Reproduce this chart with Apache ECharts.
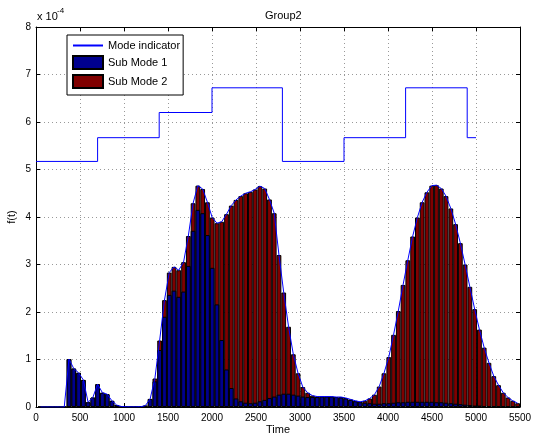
<!DOCTYPE html>
<html><head><meta charset="utf-8">
<script src="https://cdn.jsdelivr.net/npm/echarts@6/dist/echarts.min.js"></script>
<style>html,body{margin:0;padding:0;background:#fff}#chart{width:543px;height:434px}</style>
</head><body><div id="chart"></div>
<script>
// Histogram bin centres (Time)
const binCenters = [50,104,158,212,267,321,375,429,484,538,592,646,700,755,809,863,917,972,1026,1080,
1134,1189,1243,1297,1351,1405,1460,1514,1568,1622,1677,1731,1785,1839,1894,1948,2002,2056,2110,2165,
2219,2273,2327,2382,2436,2490,2544,2599,2653,2707,2761,2815,2870,2924,2978,3032,3087,3141,3195,3249,
3304,3358,3412,3466,3520,3575,3629,3683,3737,3792,3846,3900,3954,4009,4063,4117,4171,4225,4280,4334,
4388,4442,4497,4551,4605,4659,4714,4768,4822,4876,4930,4985,5039,5093,5147,5202,5256,5310,5364,5418,5473];
// f(t) in units of 1e-4
const subMode1 = [0,0,0,0,0,0,
1.01,0.81,0.72,0.57,0.10,0.20,0.48,0.30,0.27,0.13,0.04,
0.01,0.005,0.003,0.003,0.005,0.03,0.17,
0.54,1.20,1.90,2.36,2.45,2.32,2.43,2.97,3.71,4.15,4.08,3.62,2.93,2.16,1.41,0.79,0.40,0.18,0.12,0.09,0.08,0.09,0.12,0.15,0.19,0.22,0.26,0.28,0.28,0.26,0.24,0.22,0.21,0.21,
0.21,0.22,0.22,0.22,0.21,0.20,0.18,0.15,0.12,0.10,
0.09,0.08,0.07,0.07,0.08,0.08,0.09,0.10,0.10,0.11,0.11,0.11,0.11,0.11,0.11,0.10,0.10,0.09,0.08,0.07,0.06,0.05,0.04,0.03,0.03,0.02,0.02,0.01,0.01,0.01,0.01,0.01,0.01];
const subMode2 = [0,0,0,0,0,0,0,0,0,0,0,0,0,0,0,0,0,0,0,0,0,0,0,0,
0.06,0.20,0.35,0.47,0.50,0.56,0.62,0.63,0.58,0.51,0.51,0.69,1.06,1.71,2.49,3.27,3.84,4.18,4.32,4.41,4.45,4.49,4.53,4.45,4.18,3.86,2.94,2.13,1.41,0.85,0.47,0.20,0.09,0.03,
0.01,0,0,0,0,0.01,0.01,0.01,0.01,0.01,
0.04,0.10,0.19,0.36,0.63,0.97,1.43,1.92,2.47,2.98,3.48,3.88,4.20,4.41,4.55,4.57,4.50,4.35,4.10,3.78,3.39,2.95,2.49,2.03,1.60,1.23,0.91,0.64,0.45,0.29,0.19,0.12,0.07];
// Mode indicator step line
const modeX = [0,700,1400,2000,2800,3500,4200,4900,5000];
const modeLevel = [5.17,5.67,6.2,6.72,5.17,5.67,6.72,5.67,5.67];

const GRID = {left:36, top:27, width:484, height:380};
const X_MAX = 5500, BIN_W = 54.23;
const FONT = '"Liberation Sans", Arial, Helvetica, sans-serif';
const chart = echarts.init(document.getElementById('chart'));
// stacked heights: Sub Mode 2 sits on top of Sub Mode 1
const stackTop = binCenters.map((x,i)=>[x, subMode1[i]+subMode2[i]]);
const gridLine = {show:true, lineStyle:{color:'#999', type:[1,3], width:1}};
const axisLine = {show:true, onZero:false, lineStyle:{color:'#000', width:1}};
const tick = {show:true, inside:true, length:4, lineStyle:{color:'#000'}};
const lbl = {color:'#000', fontSize:10, fontFamily:FONT, formatter:v=>String(v)};
const nameStyle = {fontSize:11, color:'#000', fontFamily:FONT};
const bw = BIN_W*GRID.width/X_MAX;
// near-invisible marker so the legend shows a plain line
const THIN_MARK = 'path://M0,50h100v0.5h-100z M0,0h0.01v0.01z M0,100h0.01v0.01z';
chart.setOption({
  animation:false,
  backgroundColor:'#fff',
  title:{text:'Group2', left:260, top:5, textStyle:{fontSize:11, fontWeight:'normal', color:'#000', fontFamily:FONT}},
  grid:{left:GRID.left, top:GRID.top, width:GRID.width, height:GRID.height, containLabel:false, outerBoundsMode:'none'},
  legend:{
    orient:'vertical', left:67, top:35, itemWidth:30, itemHeight:13, itemGap:4,
    padding:[5,3,6,5], backgroundColor:'#fff', borderColor:'#000', borderWidth:1, borderRadius:0,
    textStyle:{fontSize:11, color:'#000', fontFamily:FONT},
    data:[{name:'Mode indicator'},{name:'Sub Mode 1', icon:'rect'},{name:'Sub Mode 2', icon:'rect'}]
  },
  graphic:[
    {type:'text', left:37, top:11, style:{text:'x 10', fontSize:11, fill:'#000', fontFamily:FONT}},
    {type:'text', left:57, top:7, style:{text:'-4', fontSize:8, fill:'#000', fontFamily:FONT}}
  ],
  xAxis:[
    {type:'value', min:0, max:X_MAX, interval:500, position:'bottom',
     name:'Time', nameLocation:'middle', nameGap:17, nameMoveOverlap:false, nameTextStyle:nameStyle,
     axisLine, axisTick:tick, axisLabel:Object.assign({margin:6}, lbl), splitLine:gridLine},
    {type:'value', min:0, max:X_MAX, interval:500, position:'top',
     axisLine, axisTick:tick, axisLabel:{show:false}, splitLine:{show:false}}
  ],
  yAxis:[
    {type:'value', min:0, max:8, interval:1, position:'left',
     name:'f(t)', nameLocation:'middle', nameGap:19, nameMoveOverlap:false, nameTextStyle:nameStyle,
     axisLine, axisTick:tick, axisLabel:Object.assign({margin:5}, lbl), splitLine:gridLine},
    {type:'value', min:0, max:8, interval:1, position:'right',
     axisLine, axisTick:tick, axisLabel:{show:false}, splitLine:{show:false}}
  ],
  series:[
    {name:'Sub Mode 2', type:'bar', barWidth:bw, barGap:'-100%', z:2,
     data:stackTop,
     itemStyle:{color:'#800000', borderColor:'#000', borderWidth:1}},
    {name:'Sub Mode 1', type:'bar', barWidth:bw, barGap:'-100%', z:3,
     data:binCenters.map((x,i)=>[x, subMode1[i]]),
     itemStyle:{color:'#00008F', borderColor:'#000', borderWidth:1}},
    {name:'Total', type:'line', data:stackTop, symbol:'none', z:5,
     lineStyle:{color:'#0000FF', width:1}, itemStyle:{color:'#0000FF'}},
    {name:'Mode indicator', type:'line', step:'end', z:6,
     symbol:THIN_MARK, showSymbol:false,
     data:modeX.map((x,i)=>[x, modeLevel[i]]),
     lineStyle:{color:'#0000FF', width:1}, itemStyle:{color:'#0000FF', borderWidth:0}}
  ]
});
</script></body></html>
